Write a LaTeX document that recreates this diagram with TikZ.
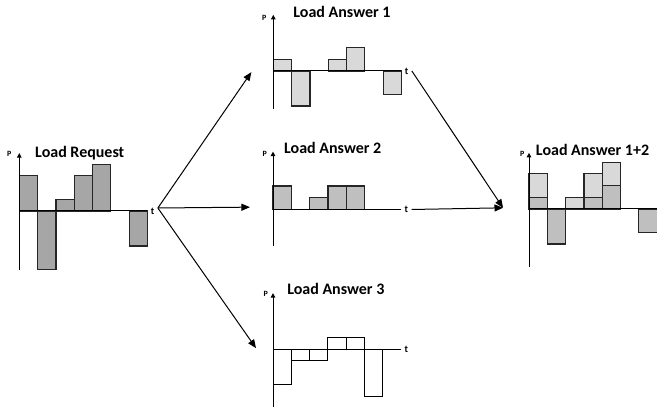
\documentclass[tikz,border=0pt]{standalone}
\usepackage{fontspec}
\setmainfont{Carlito}
\usetikzlibrary{arrows.meta}

\definecolor{reqgray}{RGB}{166,166,166}
\definecolor{midgray}{RGB}{191,191,191}
\definecolor{ansgray}{RGB}{217,217,217}

\tikzset{
  reqbar/.style={draw=black!85, line width=1.2pt, fill=reqgray},
  onebar/.style={draw=black!85, line width=1.2pt, fill=ansgray},
  twobar/.style={draw=black!85, line width=1.2pt, fill=midgray},
  threebar/.style={draw=black, line width=1pt, fill=white},
  zeroline/.style={draw=black, line width=1pt},
  paxis/.style={draw=black, line width=1pt, -{Triangle[length=4.5pt,width=4.5pt]}},
  flow/.style={draw=black, line width=1pt, -{Triangle[length=8.5pt,width=7pt]}},
  title/.style={anchor=west, inner sep=0pt, font=\bfseries\fontsize{16}{18}\selectfont},
  plabel/.style={inner sep=0pt, font=\bfseries\fontsize{8}{9}\selectfont},
  tlabel/.style={right, inner sep=3pt, font=\bfseries\fontsize{10}{11}\selectfont}
}

\begin{document}
\begin{tikzpicture}[x=18.3pt, y=11.7pt]
\useasboundingbox (0pt,0pt) rectangle (657pt,409pt);

% load request
\begin{scope}[shift={(19.3pt,198pt)}]
  \foreach \i/\h in {0/3,1/-5,2/1,3/3,4/4,6/-3}
    \draw[reqbar] (\i,0) rectangle (\i+1,\h);
  \draw[zeroline] (0,0) -- (7,0) node[tlabel] (req-t) {t};
  \draw[paxis] (0,-5.05) -- (0,4.95);
  \node[plabel] (req-p) at (-0.55,4.85) {P};
  \node[title] (req-title) at (0.86,4.96) {Load Request};
\end{scope}

% answer 1
\begin{scope}[shift={(273.3pt,338pt)}]
  \foreach \i/\h in {0/1,1/-3,3/1,4/2,6/-2}
    \draw[onebar] (\i,0) rectangle (\i+1,\h);
  \draw[zeroline] (0,0) -- (7,0) node[tlabel] (a1-t) {t};
  \draw[paxis] (0,-3.25) -- (0,4.8);
  \node[plabel] (a1-p) at (-0.5,4.5) {P};
  \node[title] (a1-title) at (1.09,5.04) {Load Answer 1};
  \coordinate (a1-in) at (-1.2,-0.1);
\end{scope}

% answer 2
\begin{scope}[shift={(273pt,199.5pt)}]
  \foreach \i/\h in {0/2,2/1,3/2,4/2}
    \draw[twobar] (\i,0) rectangle (\i+1,\h);
  \draw[zeroline] (0,0) -- (7,0) node[tlabel] (a2-t) {t};
  \draw[paxis] (0,-3.1) -- (0,4.95);
  \node[plabel] (a2-p) at (-0.45,4.75) {P};
  \node[title] (a2-title) at (0.6,5.26) {Load Answer 2};
  \coordinate (a2-in) at (-1.26,0.2);
\end{scope}

% answer 3
\begin{scope}[shift={(273pt,59.7pt)}]
  \foreach \i/\h in {0/-3,1/-1,2/-1,3/1,4/1,5/-4}
    \draw[threebar] (\i,0) rectangle (\i+1,\h);
  \draw[zeroline] (0,0) -- (7,0) node[tlabel] (a3-t) {t};
  \draw[paxis] (0,-4.9) -- (0,4.8);
  \node[plabel] (a3-p) at (-0.4,4.7) {P};
  \node[title] (a3-title) at (0.77,5.13) {Load Answer 3};
  \coordinate (a3-in) at (-0.93,0.1);
\end{scope}

% answer 1+2, stacked
\begin{scope}[shift={(529pt,200pt)}]
  \foreach \i/\h in {0/1,1/-3,3/1,4/2,6/-2}
    \draw[twobar] (\i,0) rectangle (\i+1,\h);
  \foreach \i/\a/\b in {0/1/3,2/0/1,3/1/3,4/2/4}
    \draw[onebar] (\i,\a) rectangle (\i+1,\b);
  \draw[zeroline] (0,0) -- (7,0);
  \draw[paxis] (0,-4.95) -- (0,4.8);
  \node[plabel] (sum-p) at (-0.37,4.67) {P};
  \node[title] (sum-title) at (0.37,5.04) {Load Answer 1+2};
  \coordinate (sum-in) at (-1.42,0.1);
\end{scope}

\draw[flow] ([yshift=3pt]req-t.east) -- (a1-in);
\draw[flow] ([yshift=3pt]req-t.east) -- (a2-in);
\draw[flow] ([yshift=3pt]req-t.east) -- (a3-in);
\draw[flow] (a1-t.east) -- (sum-in);
\draw[flow] (a2-t.east) -- (sum-in);
\end{tikzpicture}
\end{document}
